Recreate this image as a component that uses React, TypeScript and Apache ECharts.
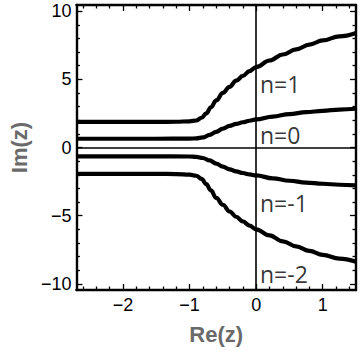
import React, { useEffect, useRef } from "react";
import * as echarts from "echarts";

const xMin = -2.7;
const xMax = 1.5;
const yMin = -10.45;
const yMax = 10.45;

const xMajorTicks = [-2, -1, 0, 1];
const xMinorTicks = [-2.6, -2.4, -2.2, -1.8, -1.6, -1.4, -1.2, -0.8, -0.6, -0.4, -0.2, 0.2, 0.4, 0.6, 0.8, 1.2, 1.4];
const yMajorTicks = [-10, -5, 0, 5, 10];
const yMinorTicks = [-9, -8, -7, -6, -4, -3, -2, -1, 1, 2, 3, 4, 6, 7, 8, 9];

const curveN1 = [
  [-2.7, 1.88], [-1.5, 1.88], [-1.2, 1.89], [-1.0, 1.92], [-0.9, 1.98], [-0.82, 2.18],
  [-0.75, 2.5], [-0.68, 2.95], [-0.6, 3.45], [-0.5, 4.0], [-0.4, 4.45], [-0.3, 4.9],
  [-0.2, 5.25], [-0.1, 5.6], [0, 5.9], [0.2, 6.38], [0.4, 6.82], [0.6, 7.2],
  [0.8, 7.55], [1.0, 7.85], [1.25, 8.15], [1.5, 8.4],
];
const curveN0 = [
  [-2.7, 0.64], [-1.5, 0.64], [-1.0, 0.65], [-0.9, 0.67], [-0.8, 0.74], [-0.7, 0.92],
  [-0.6, 1.15], [-0.5, 1.38], [-0.4, 1.58], [-0.3, 1.73], [-0.2, 1.85], [-0.1, 1.96],
  [0, 2.06], [0.25, 2.27], [0.5, 2.45], [0.75, 2.59], [1.0, 2.69], [1.25, 2.78], [1.5, 2.84],
];
const curveNm1 = [
  [-2.7, -0.65], [-1.5, -0.65], [-1.0, -0.66], [-0.9, -0.69], [-0.8, -0.77], [-0.7, -0.95],
  [-0.6, -1.18], [-0.5, -1.4], [-0.4, -1.6], [-0.3, -1.75], [-0.2, -1.87], [-0.1, -1.97],
  [0, -2.05], [0.25, -2.26], [0.5, -2.44], [0.75, -2.57], [1.0, -2.66], [1.25, -2.73], [1.5, -2.78],
];
const curveNm2 = [
  [-2.7, -1.93], [-1.5, -1.93], [-1.2, -1.95], [-1.0, -1.99], [-0.9, -2.07], [-0.82, -2.3],
  [-0.75, -2.68], [-0.68, -3.15], [-0.6, -3.7], [-0.5, -4.2], [-0.4, -4.68], [-0.3, -5.08],
  [-0.2, -5.42], [-0.1, -5.73], [0, -6.0], [0.2, -6.45], [0.4, -6.88], [0.6, -7.25],
  [0.8, -7.58], [1.0, -7.87], [1.25, -8.15], [1.5, -8.38],
];

const labelNames = ["n=1", "n=0", "n=-1", "n=-2"];
const labelX = [0.05, 0.05, 0.05, 0.05];
const labelY = [4.66, 0.95, -4.1, -9.29];

const fmt = (v: number) => (v < 0 ? "\u2212" + Math.abs(v) : String(v));

export default function App() {
  const ref = useRef<HTMLDivElement>(null);
  useEffect(() => {
    if (!ref.current) return;
    const chart = echarts.init(ref.current, null, { renderer: "svg" });
    const frameLine = { show: true, onZero: false, lineStyle: { color: "#000", width: 2.4 } };
    const tickLabel = {
      color: "#000",
      fontSize: 18,
      fontFamily: "Liberation Sans, Arial, sans-serif",
      formatter: fmt,
    };
    const makeX = (pos: string, major: boolean, labels: boolean) => ({
      type: "value",
      min: xMin,
      max: xMax,
      position: pos,
      axisLine: major ? frameLine : { show: false, onZero: false },
      axisTick: {
        show: true,
        inside: true,
        length: major ? 6 : 3.5,
        lineStyle: { color: "#000", width: 1.3 },
        customValues: major ? xMajorTicks : xMinorTicks,
      },
      axisLabel: labels
        ? { ...tickLabel, show: true, margin: 6, customValues: xMajorTicks }
        : { show: false },
      splitLine: { show: false },
      name: labels ? "Re(z)" : "",
      nameLocation: "middle",
      nameGap: 33,
      nameTextStyle: {
        color: "#6a6a6a",
        fontSize: 22,
        fontWeight: "bold",
        fontFamily: "Liberation Sans, Arial, sans-serif",
      },
    });
    const makeY = (pos: string, major: boolean, labels: boolean) => ({
      type: "value",
      min: yMin,
      max: yMax,
      position: pos,
      axisLine: major ? frameLine : { show: false, onZero: false },
      axisTick: {
        show: true,
        inside: true,
        length: major ? 6 : 3.5,
        lineStyle: { color: "#000", width: 1.3 },
        customValues: major ? yMajorTicks : yMinorTicks,
      },
      axisLabel: labels
        ? { ...tickLabel, show: true, margin: 5, customValues: yMajorTicks }
        : { show: false },
      splitLine: { show: false },
      name: labels ? "Im(z)" : "",
      nameLocation: "middle",
      nameGap: 46,
      nameRotate: 90,
      nameTextStyle: {
        color: "#6a6a6a",
        fontSize: 22,
        fontWeight: "bold",
        fontFamily: "Liberation Sans, Arial, sans-serif",
      },
    });
    const curveStyle = (data: number[][]) => ({
      type: "line",
      data,
      xAxisIndex: 0,
      yAxisIndex: 0,
      showSymbol: false,
      smooth: 0.4,
      smoothMonotone: "x",
      lineStyle: { color: "#000", width: 4.2 },
      z: 3,
    });
    chart.setOption({
      animation: false,
      grid: { left: 73, right: 4, top: 5, bottom: 62, containLabel: false },
      xAxis: [
        makeX("bottom", true, true),
        makeX("bottom", false, false),
        makeX("top", true, false),
        makeX("top", false, false),
      ],
      yAxis: [
        makeY("left", true, true),
        makeY("left", false, false),
        makeY("right", true, false),
        makeY("right", false, false),
      ],
      series: [
        {
          ...curveStyle(curveN1),
          markLine: {
            silent: true,
            symbol: ["none", "none"],
            label: { show: false },
            lineStyle: { color: "#000", width: 1.6, type: "solid" },
            emphasis: { disabled: true },
            data: [{ xAxis: 0 }, { yAxis: 0 }],
          },
        },
        curveStyle(curveN0),
        curveStyle(curveNm1),
        curveStyle(curveNm2),
        {
          type: "scatter",
          xAxisIndex: 0,
          yAxisIndex: 0,
          symbolSize: 1,
          itemStyle: { color: "rgba(0,0,0,0)" },
          data: labelNames.map((n, i) => ({ name: n, value: [labelX[i], labelY[i]] })),
          label: {
            show: true,
            position: "right",
            distance: 0,
            formatter: "{b}",
            color: "#000",
            fontSize: 23,
            fontFamily: "Open Sans, sans-serif",
          },
          z: 4,
        },
      ],
    });
    return () => chart.dispose();
  }, []);
  return (
    <div
      ref={ref}
      style={{ position: "absolute", left: 0, top: 0, width: 360, height: 352 }}
    />
  );
}
